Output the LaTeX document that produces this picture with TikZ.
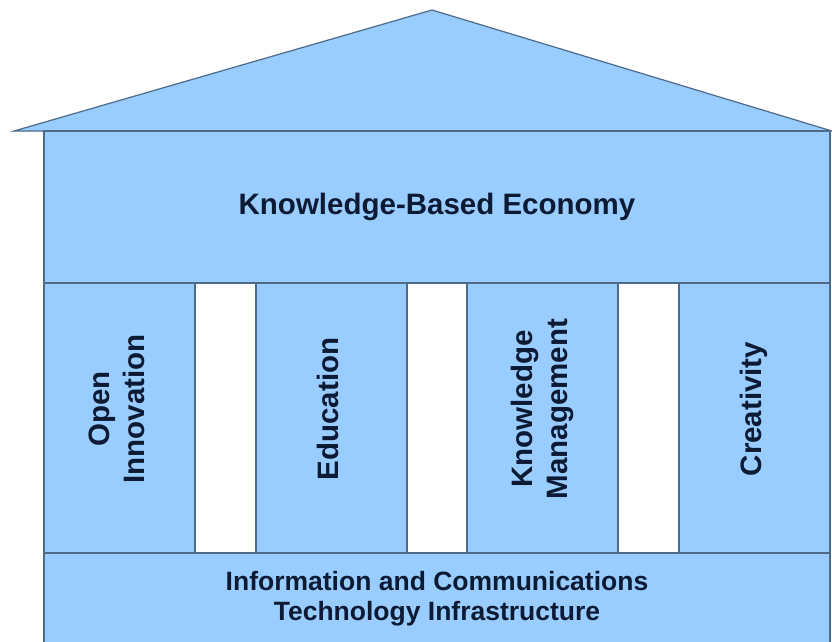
\documentclass[tikz,border=0pt]{standalone}
\usepackage{fontspec}
\setmainfont{Liberation Sans}
\usepackage{xcolor}
\usepackage{tikz}
\usetikzlibrary{positioning}

\definecolor{housefill}{HTML}{99CCFF}
\definecolor{houseline}{HTML}{4D6A88}
\definecolor{housetext}{HTML}{0D1A33}

\newcommand{\pillartext}[1]{\rotatebox{90}{\hspace{18pt}\begin{tabular}{@{}c@{}}#1\end{tabular}}}

\begin{document}
\begin{tikzpicture}[x=1pt, y=-1pt, node distance=0pt,
        part/.style={draw=houseline, fill=housefill, line width=1.2pt,
            inner sep=0pt, outer sep=0pt, text=housetext,
            font=\bfseries\fontsize{29.5}{35}\selectfont},
        pillar/.style={part, minimum width=151pt, minimum height=270pt},
        gap/.style={part, fill=white, minimum height=270pt},
        roof/.style={draw=houseline, fill=housefill, line width=1.2pt, line join=miter}]
        \useasboundingbox (0,0) rectangle (832,642);
        % roof
        \draw[roof] (14,131) -- (432,10) -- (832,131) -- cycle;
        % top band
        \node[part, anchor=north west, minimum width=786pt, minimum height=152pt] (eco) at (44,131)
            {Knowledge-Based Economy};
        % pillars
        \node[pillar, below right=of eco.south west] (oi) {\pillartext{Open\\Innovation}};
        \node[gap, minimum width=61pt, right=of oi] (g1) {};
        \node[pillar, right=of g1] (edu) {\pillartext{Education}};
        \node[gap, minimum width=60pt, right=of edu] (g2) {};
        \node[pillar, right=of g2] (km) {\pillartext{Knowledge\\Management}};
        \node[gap, minimum width=61pt, right=of km] (g3) {};
        \node[pillar, right=of g3] (cre) {\pillartext{Creativity}};
        % base
        \node[part, below right=of oi.south west, minimum width=786pt, minimum height=92pt,
            align=center, font=\bfseries\fontsize{26.5}{30}\selectfont] (ict)
            {Information and Communications\\Technology Infrastructure};
    \end{tikzpicture}
\end{document}
